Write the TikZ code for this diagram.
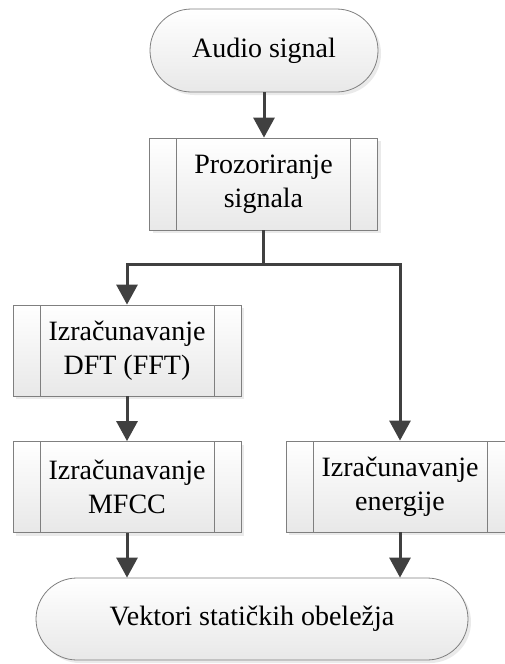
\documentclass[tikz,border=0pt]{standalone}
\usepackage{fontspec}
\setmainfont{Liberation Serif}
\usetikzlibrary{arrows.meta,shapes.misc,shadows}
\definecolor{boxgray}{HTML}{7F7F7F}
\definecolor{arrowgray}{HTML}{404040}
\tikzset{
  base/.style={draw=boxgray, line width=0.8pt, top color=white, bottom color=black!9,
    drop shadow={shadow xshift=3pt, shadow yshift=-3pt, fill=black!16},
    font=\fontsize{28}{34}\selectfont, align=center, inner sep=0pt, text=black},
  term/.style={base, rounded rectangle, minimum width=228pt, minimum height=83pt},
  proc/.style={base, rectangle, minimum width=228pt, minimum height=91pt,
    path picture={
      \draw[boxgray, line width=0.8pt]
        ([xshift=27pt]path picture bounding box.north west) --
        ([xshift=27pt]path picture bounding box.south west)
        ([xshift=-27pt]path picture bounding box.north east) --
        ([xshift=-27pt]path picture bounding box.south east);
    }},
  link/.style={draw=arrowgray, line width=3pt},
  flow/.style={link, -{Triangle[width=21pt,length=20pt]}}
}
\begin{document}
\begin{tikzpicture}[x=1pt,y=-1pt]
  \useasboundingbox (0,0) rectangle (505,664);
  \clip (0,0) rectangle (505,664);
  \node[term] (start) at (264,50.5) {Audio signal};
  \node[proc, minimum height=92pt] (proz) at (263.5,184) {Prozoriranje\\signala};
  \node[proc] (dft) at (127,350.5) {Izračunavanje\\DFT (FFT)};
  \node[proc] (mfcc) at (127,487) {Izračunavanje\\MFCC};
  \node[proc] (ener) at (400,486.5) {Izračunavanje\\energije};
  \node[term, minimum width=432pt, minimum height=82pt] (end) at (252,619) {Vektori statičkih obeležja};

  \coordinate (br) at (263.5,264);
  \draw[flow] (start.south) -- (start.south |- proz.north);
  \draw[link] (proz.south) -- (br);
  \draw[flow] (br) -| (dft.north);
  \draw[flow] (br) -| (ener.north);
  \draw[flow] (dft.south) -- (mfcc.north);
  \draw[flow] (mfcc.south) -- (mfcc.south |- end.north);
  \draw[flow] (ener.south) -- (ener.south |- end.north);
\end{tikzpicture}
\end{document}
